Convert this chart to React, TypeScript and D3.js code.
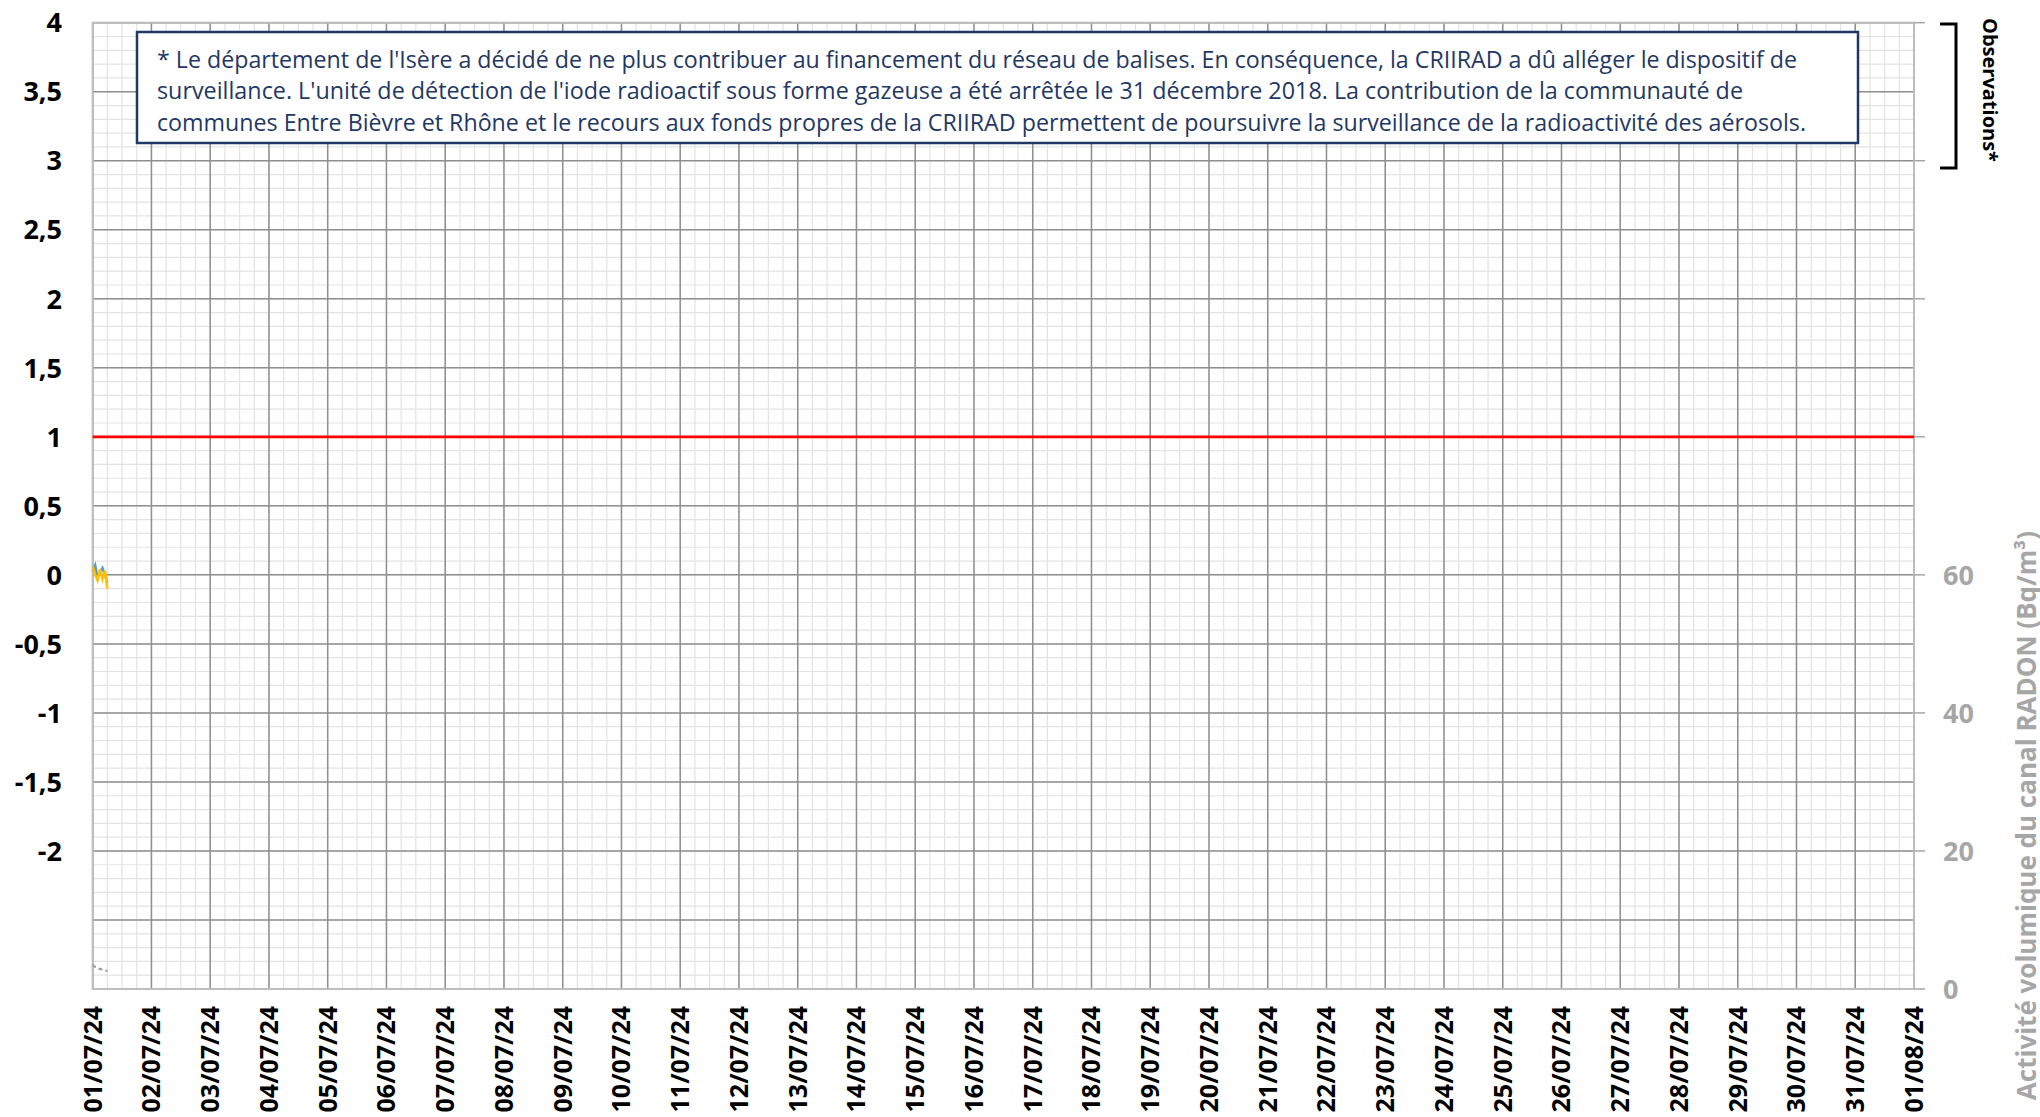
import React from 'react';
import * as d3 from 'd3';

const width = 2040;
const height = 1117;
const plot = {
  left: 92.7, right: 1914, top: 22.7, bottom: 989,
};

// Period shown on the x axis
const startDate = new Date(2024, 6, 1);
const endDate = new Date(2024, 7, 1);

// Left axis (main channel) and right axis (radon channel)
const leftDomain = [-3, 4];
const leftLabels = [-2, -1.5, -1, -0.5, 0, 0.5, 1, 1.5, 2, 2.5, 3, 3.5, 4];
const rightDomain = [0, 140];
const rightTicks = [0, 20, 40, 60, 80, 100, 120, 140];
const rightLabels = [0, 20, 40, 60];
const alertLevel = 1;

// Only the first hours of the month were recorded (hour offsets from 01/07 00:00)
const hours = [0, 1, 2, 3, 4, 5, 6];
const blueSeries = [0.03, 0.07, -0.02, 0.02, 0.05, 0.0, -0.06];
const yellowSeries = [0.06, 0.0, -0.04, 0.04, -0.03, 0.03, -0.1];
const radonSeries = [3.5, 3.2, 3.0, 2.9, 2.8, 2.7, 2.6];

const noteLines = [
  "* Le département de l'Isère a décidé de ne plus contribuer au financement du réseau de balises. En conséquence, la CRIIRAD a dû alléger le dispositif de",
  "surveillance. L'unité de détection de l'iode radioactif sous forme gazeuse a été arrêtée le 31 décembre 2018. La contribution de la communauté de",
  'communes Entre Bièvre et Rhône et le recours aux fonds propres de la CRIIRAD permettent de poursuivre la surveillance de la radioactivité des aérosols.',
];
const noteWidths = [1640, 1586, 1649];

const fmtDate = d3.timeFormat('%d/%m/%y');
const fmtNum = (v: number) => String(v).replace('.', ',');

const App: React.FC = () => {
  const x = d3.scaleTime().domain([startDate, endDate]).range([plot.left, plot.right]);
  const yL = d3.scaleLinear().domain(leftDomain).range([plot.bottom, plot.top]);
  const yR = d3.scaleLinear().domain(rightDomain).range([plot.bottom, plot.top]);

  const at = (h: number) => d3.timeHour.offset(startDate, h);

  // Grid positions
  const minorH = d3.range(leftDomain[0] * 10, leftDomain[1] * 10 + 1).map((i) => i / 10);
  const majorH = d3.range(leftDomain[0] * 2, leftDomain[1] * 2 + 1).map((i) => i / 2);
  const minorV = d3.timeHour.every(6)!.range(startDate, d3.timeHour.offset(endDate, 1));
  const majorV = d3.timeDay.range(startDate, d3.timeDay.offset(endDate, 1));

  const lineL = d3.line<number>()
    .x((_, i) => x(at(hours[i])))
    .y((d) => yL(d));
  const lineR = d3.line<number>()
    .x((_, i) => x(at(hours[i])))
    .y((d) => yR(d));

  const boldFont = "'Open Sans', 'Noto Sans', sans-serif";

  return (
    <div style={{ position: 'absolute', left: 0, top: 0 }}>
      <svg width={width} height={height} style={{ display: 'block', background: '#fff' }}>
        {/* minor grid */}
        <g stroke="#e3e3e3" strokeWidth={1.2}>
          {minorH.map((v) => (
            <line key={`mh${v}`} x1={plot.left} x2={plot.right} y1={yL(v)} y2={yL(v)} />
          ))}
          {minorV.map((d) => (
            <line key={`mv${+d}`} x1={x(d)} x2={x(d)} y1={plot.top} y2={plot.bottom} />
          ))}
        </g>
        {/* major grid */}
        <g stroke="#8f8f8f" strokeWidth={1.5}>
          {majorH.map((v) => (
            <line key={`Mh${v}`} x1={plot.left} x2={plot.right} y1={yL(v)} y2={yL(v)} />
          ))}
          {majorV.map((d) => (
            <line key={`Mv${+d}`} x1={x(d)} x2={x(d)} y1={plot.top} y2={plot.bottom} />
          ))}
        </g>
        {/* frame */}
        <rect
          x={plot.left}
          y={plot.top}
          width={plot.right - plot.left}
          height={plot.bottom - plot.top}
          fill="none"
          stroke="#bdbdbd"
          strokeWidth={2}
        />
        {/* right axis ticks */}
        <g stroke="#a6a6a6" strokeWidth={1.5}>
          {rightTicks.map((v) => (
            <line key={`rt${v}`} x1={plot.right} x2={plot.right + 11} y1={yR(v)} y2={yR(v)} />
          ))}
        </g>

        {/* alert level */}
        <line
          x1={plot.left}
          x2={plot.right}
          y1={yL(alertLevel)}
          y2={yL(alertLevel)}
          stroke="#ff0000"
          strokeWidth={2.8}
        />

        {/* series */}
        <path d={lineR(radonSeries) ?? ''} fill="none" stroke="#9a9a9a" strokeWidth={2} strokeDasharray="4,3" />
        <path d={lineL(blueSeries) ?? ''} fill="none" stroke="#5b9bd5" strokeWidth={2.5} />
        <path d={lineL(yellowSeries) ?? ''} fill="none" stroke="#ffc000" strokeWidth={2.5} />

        {/* left axis labels */}
        <g fontFamily={boldFont} fontWeight="bold" fontSize={27} fill="#000" textAnchor="end">
          {leftLabels.map((v) => (
            <text key={`ll${v}`} x={62} y={yL(v)} dy="0.36em">{fmtNum(v)}</text>
          ))}
        </g>

        {/* right axis labels */}
        <g fontFamily={boldFont} fontWeight="bold" fontSize={27} fill="#a6a6a6" textAnchor="start">
          {rightLabels.map((v) => (
            <text key={`rl${v}`} x={1943} y={yR(v)} dy="0.36em">{v}</text>
          ))}
        </g>
        <text
          transform="translate(2027,531) rotate(-90)"
          fontFamily={boldFont}
          fontWeight="bold"
          fontSize={26}
          fill="#a6a6a6"
          textAnchor="end"
          dy="0.36em"
        >
          Activité volumique du canal RADON (Bq/m³)
        </text>

        {/* x axis labels */}
        <g fontFamily={boldFont} fontWeight="bold" fontSize={25} fill="#000" textAnchor="end">
          {majorV.map((d) => (
            <text key={`xl${+d}`} transform={`translate(${x(d)},1006) rotate(-90)`} dy="0.36em">
              {fmtDate(d)}
            </text>
          ))}
        </g>

        {/* observations bracket */}
        <path d="M1940,24 H1956 V168 H1940" fill="none" stroke="#000" strokeWidth={3} />
        <text
          transform="translate(1990,18) rotate(90)"
          fontFamily={boldFont}
          fontWeight="bold"
          fontSize={20}
          fill="#000"
          textAnchor="start"
          dy="0.36em"
          textLength={144}
          lengthAdjust="spacingAndGlyphs"
        >
          Observations*
        </text>

        {/* note box */}
        <rect x={137} y={32} width={1721} height={111} fill="#fff" stroke="#203864" strokeWidth={2.5} />
        <g fontFamily={boldFont} fontSize={23.5} fill="#1f3864">
          {noteLines.map((t, i) => (
            <text
              key={`n${i}`}
              x={157}
              y={67.7 + i * 31.7}
              textLength={noteWidths[i]}
              lengthAdjust="spacingAndGlyphs"
            >
              {t}
            </text>
          ))}
        </g>
      </svg>
    </div>
  );
};

export default App;
